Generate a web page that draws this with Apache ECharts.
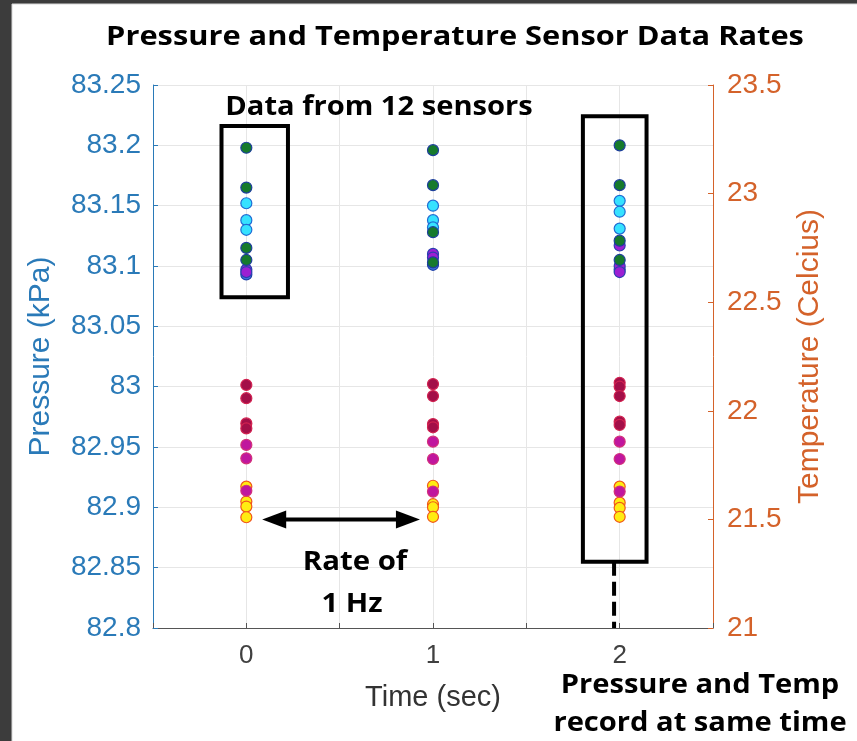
<!DOCTYPE html>
<html>
<head>
<meta charset="utf-8">
<script src="https://cdn.jsdelivr.net/npm/echarts@6/dist/echarts.min.js"></script>
<style>
  html, body { margin: 0; padding: 0; background: #3c3c3c; }
  #chart { width: 857px; height: 741px; }
</style>
</head>
<body>
<div id="chart"></div>
<script>
// sample times (sec)
const times = [0, 1, 2];

// pressure readings (kPa), one list per time step, grouped by marker colour
const pressureGreen = [[83.198, 83.165, 83.115, 83.105], [83.196, 83.167, 83.128, 83.103], [83.2, 83.167, 83.121, 83.105]];
const pressureCyan = [[83.152, 83.138, 83.130], [83.150, 83.138, 83.132], [83.154, 83.145, 83.131]];
const pressureBlue = [[83.093], [83.101], [83.097]];
const pressurePurple = [[83.097, 83.095], [83.110, 83.107], [83.117, 83.100, 83.095]];

// temperature readings (Celcius), same layout
const tempYellow = [[21.651, 21.582, 21.559, 21.510], [21.655, 21.570, 21.556, 21.512], [21.651, 21.577, 21.553, 21.512]];
const tempMagenta = [[21.843, 21.781, 21.632], [21.858, 21.778, 21.628], [21.858, 21.778, 21.628]];
const tempCrimson = [[22.119, 22.058, 21.942, 21.919], [22.123, 22.068, 21.939, 21.924], [22.129, 22.111, 22.068, 21.950, 21.935]];

const xTickLabels = ['0', '1', '2'];

const BLUE = '#2a7ab8';
const ORANGE = '#d4622a';
const BOLD_FONT = '"Open Sans"';

const toPoints = (groups) => {
  const pts = [];
  groups.forEach((vals, i) => vals.forEach((v) => pts.push([times[i], v])));
  return pts;
};

const scatter = (name, groups, yAxisIndex, fill, edge) => ({
  name,
  type: 'scatter',
  yAxisIndex,
  symbolSize: 11,
  itemStyle: { color: fill, borderColor: edge, borderWidth: 1.2, opacity: 1 },
  data: toPoints(groups),
});

const chart = echarts.init(document.getElementById('chart'));

chart.setOption({
  backgroundColor: '#3c3c3c',
  animation: false,
  grid: { left: 153, right: 144, top: 85, bottom: 113 },
  xAxis: {
    type: 'value',
    min: -0.5,
    max: 2.5,
    interval: 0.5,
    name: 'Time (sec)',
    nameLocation: 'middle',
    nameGap: 55,
    nameTextStyle: { fontFamily: 'Liberation Sans', fontSize: 29, color: '#333' },
    axisLine: { show: true, onZero: false, lineStyle: { color: '#555', width: 1 } },
    axisTick: { show: true, inside: true, length: 5, lineStyle: { color: '#555' } },
    axisLabel: {
      fontFamily: 'Liberation Sans',
      fontSize: 26,
      color: '#404040',
      margin: 15,
      formatter: (v) => (Number.isInteger(v) ? xTickLabels[v] : ''),
    },
    splitLine: { show: true, lineStyle: { color: '#e6e6e6', width: 1 } },
  },
  yAxis: [
    {
      type: 'value',
      min: 82.8,
      max: 83.25,
      interval: 0.05,
      position: 'left',
      name: 'Pressure (kPa)',
      nameLocation: 'middle',
      nameGap: 97,
      nameTextStyle: { fontFamily: 'Liberation Sans', fontSize: 30, color: BLUE },
      axisLine: { show: true, onZero: false, lineStyle: { color: BLUE, width: 1 } },
      axisTick: { show: true, inside: true, length: 5, lineStyle: { color: BLUE } },
      axisLabel: {
        fontFamily: 'Liberation Sans',
        fontSize: 28,
        color: BLUE,
        margin: 12,
        formatter: (v) => String(parseFloat(v.toFixed(2))),
      },
      splitLine: { show: true, lineStyle: { color: '#e6e6e6', width: 1 } },
    },
    {
      type: 'value',
      min: 21,
      max: 23.5,
      interval: 0.5,
      position: 'right',
      name: 'Temperature (Celcius)',
      nameLocation: 'middle',
      nameGap: 82,
      nameTextStyle: { fontFamily: 'Liberation Sans', fontSize: 30, color: ORANGE },
      axisLine: { show: true, onZero: false, lineStyle: { color: ORANGE, width: 1 } },
      axisTick: { show: true, inside: true, length: 5, lineStyle: { color: ORANGE } },
      axisLabel: {
        fontFamily: 'Liberation Sans',
        fontSize: 28,
        color: ORANGE,
        margin: 14,
        formatter: (v) => String(parseFloat(v.toFixed(1))),
      },
      splitLine: { show: false },
    },
  ],
  series: [
    scatter('P blue', pressureBlue, 0, '#3f74dc', '#1d3fa8'),
    scatter('P purple', pressurePurple, 0, '#9c1fd2', '#2b3fb0'),
    scatter('P cyan', pressureCyan, 0, '#36e2ff', '#1f6cd4'),
    scatter('P green', pressureGreen, 0, '#167a2c', '#1d3f9c'),
    scatter('T yellow', tempYellow, 1, '#ffec12', '#f0561a'),
    scatter('T magenta', tempMagenta, 1, '#c0169e', '#d2307a'),
    scatter('T crimson', tempCrimson, 1, '#a30f48', '#d22250'),
  ],
});

// annotations drawn on top, placed through the axes
const px = (x, y) => chart.convertToPixel({ xAxisIndex: 0, yAxisIndex: 0 }, [x, y]);
const box = (x0, y0, x1, y1) => {
  const a = px(x0, y0);
  const b = px(x1, y1);
  return {
    type: 'rect',
    shape: { x: a[0], y: a[1], width: b[0] - a[0], height: b[1] - a[1] },
    style: { fill: 'none', stroke: '#000', lineWidth: 4 },
    z: 100,
  };
};
const label = (text, x, y, size, stretch) => ({
  type: 'text',
  x,
  y,
  scaleX: stretch,
  style: {
    text,
    fill: '#000',
    font: `bold ${size}px ${BOLD_FONT}`,
    align: 'center',
    verticalAlign: 'middle',
  },
  z: 101,
});

const arrL = px(0.085, 82.89);
const arrR = px(0.93, 82.89);
const dashTop = px(1.97, 82.855);
const dashBot = px(1.97, 82.8);
const head = 24;
const half = 9;

chart.setOption({
  graphic: [
    {
      type: 'rect',
      shape: { x: 12, y: 4, width: 857, height: 741 },
      style: { fill: '#fff', stroke: '#d8d8d8', lineWidth: 1 },
      z: -10,
      silent: true,
    },
    box(-0.133, 83.216, 0.223, 83.074),
    box(1.803, 83.224, 2.144, 82.855),
    {
      type: 'line',
      shape: { x1: dashTop[0], y1: dashTop[1], x2: dashBot[0], y2: dashBot[1] },
      style: { stroke: '#000', lineWidth: 4, lineDash: [14, 6] },
      z: 100,
    },
    {
      type: 'line',
      shape: { x1: arrL[0] + head - 2, y1: arrL[1], x2: arrR[0] - head + 2, y2: arrR[1] },
      style: { stroke: '#000', lineWidth: 4 },
      z: 100,
    },
    {
      type: 'polygon',
      shape: { points: [[arrL[0], arrL[1]], [arrL[0] + head, arrL[1] - half], [arrL[0] + head, arrL[1] + half]] },
      style: { fill: '#000' },
      z: 100,
    },
    {
      type: 'polygon',
      shape: { points: [[arrR[0], arrR[1]], [arrR[0] - head, arrR[1] - half], [arrR[0] - head, arrR[1] + half]] },
      style: { fill: '#000' },
      z: 100,
    },
    label('Pressure and Temperature Sensor Data Rates', 455, 37, 27, 1.14),
    label('Data from 12 sensors', 379, 108, 26, 1.12),
    label('Rate of', 355, 563, 26, 1.13),
    label('1 Hz', 352, 605, 26, 1.13),
    label('Pressure and Temp', 700, 686, 26, 1.12),
    label('record at same time', 700, 724, 26, 1.12),
  ],
});
</script>
</body>
</html>
